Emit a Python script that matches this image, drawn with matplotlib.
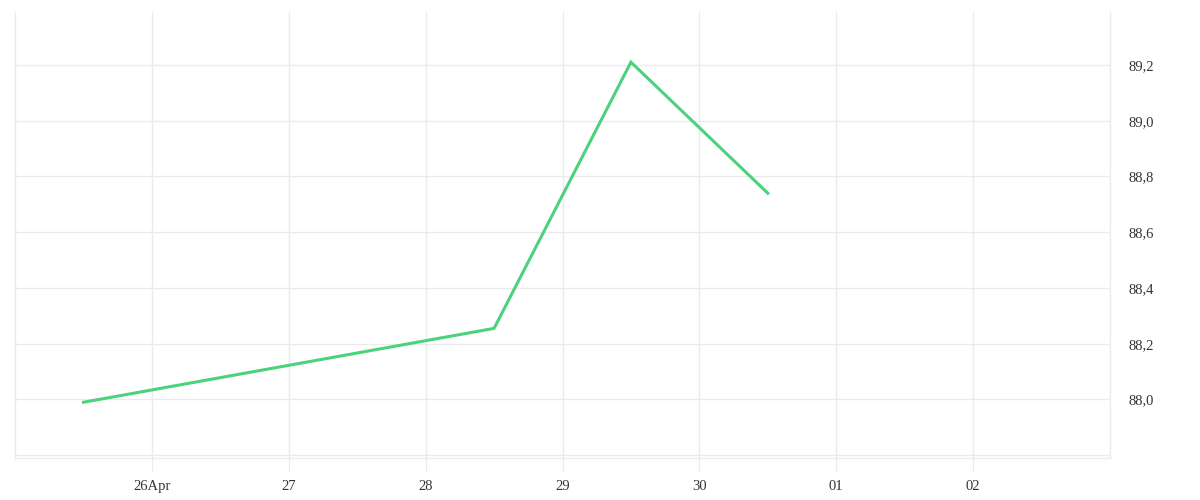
import matplotlib
matplotlib.use("Agg")
import matplotlib.pyplot as plt
import pandas as pd

dates = ["2024-04-25 12:00", "2024-04-28 12:00", "2024-04-29 12:00", "2024-04-30 12:00"]
values = [87.99, 88.255, 89.21, 88.74]
xticks = ["2024-04-26", "2024-04-27", "2024-04-28", "2024-04-29", "2024-04-30", "2024-05-01", "2024-05-02"]
xlabels = ["26Apr", "27", "28", "29", "30", "01", "02"]
yticks = [87.8, 88.0, 88.2, 88.4, 88.6, 88.8, 89.0, 89.2]

x = pd.to_datetime(dates)
grid = "#ebebeb"

fig = plt.figure(figsize=(12, 5), dpi=100)
ax = fig.add_axes([15/1200, 42/500, 1095/1200, 446/500])
ax.plot(x, values, color="#4cd27d", lw=2.2, solid_joinstyle="miter")
ax.set_xlim(pd.Timestamp("2024-04-25"), pd.Timestamp("2024-05-03"))
ax.set_ylim(87.79, 89.39)
ax.set_xticks(pd.to_datetime(xticks))
ax.set_xticklabels(xlabels)
ax.set_yticks(yticks)
ax.set_yticklabels([("%.1f" % v).replace(".", ",") if v >= 88 else "" for v in yticks])
ax.yaxis.tick_right()
ax.grid(True, color=grid, lw=1)
ax.set_axisbelow(True)
for s in ["left", "right", "bottom"]:
    ax.spines[s].set_color(grid)
    ax.spines[s].set_linewidth(1)
ax.spines["top"].set_visible(False)
ax.tick_params(axis="x", length=10, color=grid, pad=6, labelsize=10.5, labelcolor="#333333")
ax.tick_params(axis="y", length=0, pad=13, labelsize=10.5, labelcolor="#333333")
for lab in ax.get_xticklabels() + ax.get_yticklabels():
    lab.set_family("Liberation Serif")
fig.savefig("out.png")
